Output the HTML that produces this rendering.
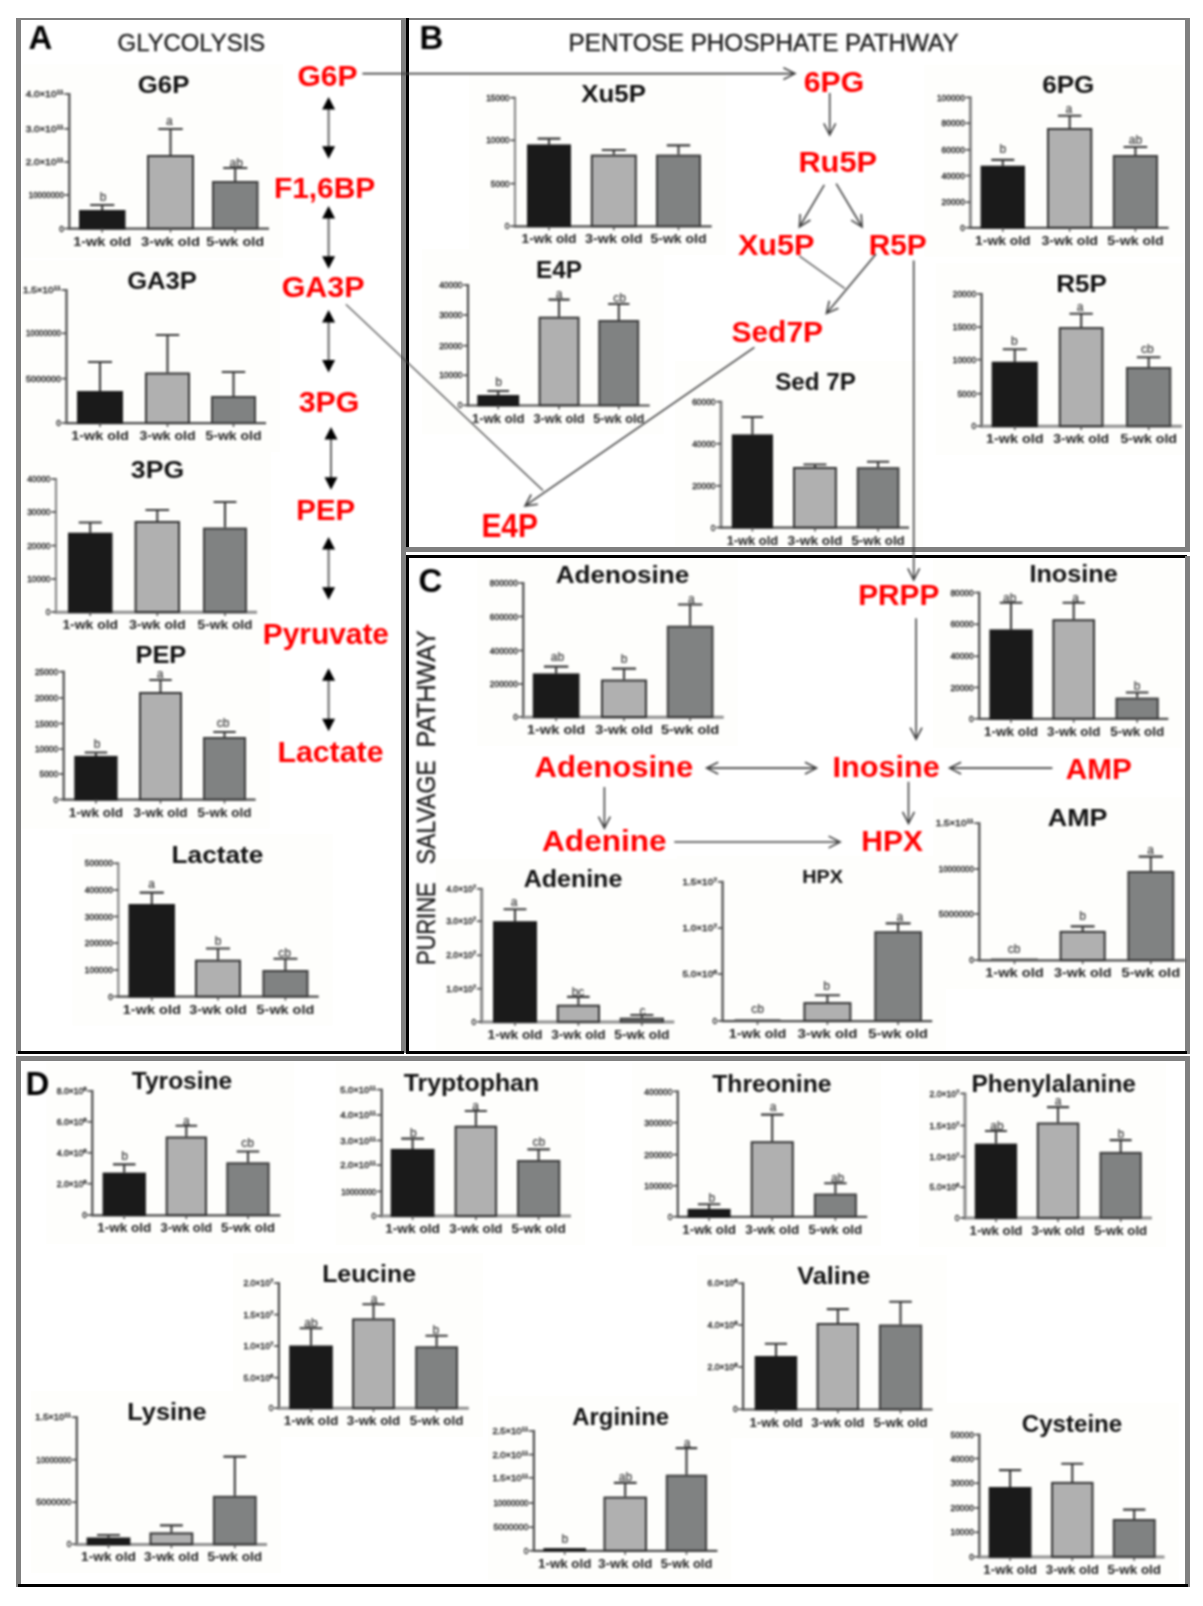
<!DOCTYPE html>
<html><head><meta charset="utf-8"><title>Figure</title>
<style>
html,body{margin:0;padding:0;background:#fff;}
svg{display:block;}
text{font-family:"Liberation Sans",Arial,Helvetica,sans-serif;}
.tk{font-size:8.4px;fill:#2a2a2a;stroke:#2a2a2a;stroke-width:0.4;}
.xl{font-size:13.6px;font-weight:bold;fill:#222;}
.lt{font-size:12px;fill:#3a3a3a;stroke:#3a3a3a;stroke-width:0.2;}
.tt{font-weight:bold;fill:#111;}
.pl{font-size:33px;font-weight:bold;fill:#000;}
.hd{font-size:23.5px;fill:#1c1c1c;stroke:#1c1c1c;stroke-width:0.35;}
.rd{font-size:29.5px;font-weight:bold;fill:#ff0000;}
</style></head><body>
<svg width="1203" height="1606" viewBox="0 0 1203 1606">
<defs><filter id="bl" x="0" y="0" width="1203" height="1606" filterUnits="userSpaceOnUse" color-interpolation-filters="sRGB"><feGaussianBlur stdDeviation="0.8" color-interpolation-filters="sRGB"/></filter></defs>
<rect width="1203" height="1606" fill="#ffffff"/>
<g>
<rect x="23.3" y="64.5" width="259.7" height="193" fill="#fefefc"/>
<rect x="21" y="260.4" width="259" height="191.6" fill="#fefefc"/>
<rect x="21" y="449" width="250" height="192" fill="#fefefc"/>
<rect x="21" y="634.3" width="248.6" height="194.2" fill="#fefefc"/>
<rect x="72.3" y="834" width="260.4" height="191.5" fill="#fefefc"/>
<rect x="469" y="73.3" width="256.7" height="181.9" fill="#fefefc"/>
<rect x="422" y="249" width="241.7" height="185.3" fill="#fefefc"/>
<rect x="675" y="361.2" width="248" height="184.8" fill="#fefefc"/>
<rect x="924.4" y="64.6" width="258.2" height="192.1" fill="#fefefc"/>
<rect x="935.6" y="263.3" width="248.4" height="191.8" fill="#fefefc"/>
<rect x="477.3" y="559" width="260.4" height="187" fill="#fefefc"/>
<rect x="933.2" y="559" width="249.1" height="188.7" fill="#fefefc"/>
<rect x="933.3" y="797.4" width="250.7" height="191.7" fill="#fefefc"/>
<rect x="435.7" y="858.6" width="252.6" height="191.4" fill="#fefefc"/>
<rect x="676.6" y="855.7" width="269.6" height="194.2" fill="#fefefc"/>
<rect x="46.3" y="1062" width="248.1" height="182.1" fill="#fefefc"/>
<rect x="335.7" y="1062" width="249.3" height="182.9" fill="#fefefc"/>
<rect x="631.8" y="1062.7" width="249.4" height="183" fill="#fefefc"/>
<rect x="919" y="1062.7" width="246.9" height="184.2" fill="#fefefc"/>
<rect x="232.9" y="1253.3" width="249.9" height="183.8" fill="#fefefc"/>
<rect x="697.1" y="1254.8" width="249.4" height="183.5" fill="#fefefc"/>
<rect x="30.8" y="1390.8" width="250.2" height="182.4" fill="#fefefc"/>
<rect x="487.9" y="1395.9" width="243.5" height="183.8" fill="#fefefc"/>
<rect x="933.3" y="1402.7" width="245.2" height="180.3" fill="#fefefc"/>
</g>
<g shape-rendering="crispEdges">
<rect x="15.5" y="17.5" width="5.5" height="1036.5" fill="#808080"/>
<rect x="15.5" y="17.5" width="1174.5" height="2.6" fill="#808080"/>
<rect x="401.3" y="17.5" width="4.8" height="1035" fill="#808080"/>
<rect x="18" y="1051" width="385.6" height="3" fill="#000000"/>
<rect x="406.1" y="17.5" width="3" height="534.6" fill="#000000"/>
<rect x="1185" y="17.5" width="5" height="534.6" fill="#808080"/>
<rect x="406.1" y="547.2" width="783.9" height="4.9" fill="#808080"/>
<rect x="406.1" y="554.6" width="3" height="499.4" fill="#000000"/>
<rect x="406.1" y="554.6" width="781" height="3.3" fill="#000000"/>
<rect x="1185" y="555.5" width="5" height="498.5" fill="#808080"/>
<rect x="406.1" y="1051" width="781" height="3" fill="#000000"/>
<rect x="15.5" y="1056.2" width="1174.5" height="5.2" fill="#808080"/>
<rect x="15.5" y="1056.2" width="5.5" height="530.6" fill="#808080"/>
<rect x="1185" y="1056.2" width="5" height="530.6" fill="#808080"/>
<rect x="18" y="1583.8" width="1170" height="3" fill="#000000"/>
</g>
<g filter="url(#bl)">
<text class="pl" x="28.5" y="48.5">A</text>
<text class="pl" x="419.5" y="48.5">B</text>
<text class="pl" x="418.5" y="591.5">C</text>
<text class="pl" x="25.5" y="1094.5">D</text>
<text class="hd" x="117.6" y="51" textLength="147.6" lengthAdjust="spacingAndGlyphs">GLYCOLYSIS</text>
<text class="hd" x="568.6" y="51" textLength="390" lengthAdjust="spacingAndGlyphs">PENTOSE PHOSPHATE PATHWAY</text>
<text class="hd" transform="translate(435.4 965.1) rotate(-90) scale(1 1.12)" style="font-size:22.8px" textLength="82.7" lengthAdjust="spacingAndGlyphs">PURINE</text>
<text class="hd" transform="translate(435.4 864.3) rotate(-90) scale(1 1.12)" style="font-size:22.8px" textLength="103.9" lengthAdjust="spacingAndGlyphs">SALVAGE</text>
<text class="hd" transform="translate(435.4 747.2) rotate(-90) scale(1 1.12)" style="font-size:22.8px" textLength="116.8" lengthAdjust="spacingAndGlyphs">PATHWAY</text>
<text class="rd" x="297.5" y="86" style="font-size:29.5px" textLength="60" lengthAdjust="spacingAndGlyphs">G6P</text>
<text class="rd" x="273.9" y="197.9" style="font-size:29.5px" textLength="101.4" lengthAdjust="spacingAndGlyphs">F1,6BP</text>
<text class="rd" x="281.7" y="297.3" style="font-size:29.5px" textLength="82.9" lengthAdjust="spacingAndGlyphs">GA3P</text>
<text class="rd" x="298.7" y="411.7" style="font-size:29.5px" textLength="60.7" lengthAdjust="spacingAndGlyphs">3PG</text>
<text class="rd" x="296.3" y="520.2" style="font-size:29.5px" textLength="58.8" lengthAdjust="spacingAndGlyphs">PEP</text>
<text class="rd" x="262.7" y="643.8" style="font-size:29.5px" textLength="126.3" lengthAdjust="spacingAndGlyphs">Pyruvate</text>
<text class="rd" x="277.4" y="761.7" style="font-size:29.5px" textLength="106.1" lengthAdjust="spacingAndGlyphs">Lactate</text>
<text class="rd" x="803.8" y="91.9" style="font-size:30.2px" textLength="60.4" lengthAdjust="spacingAndGlyphs">6PG</text>
<text class="rd" x="798.4" y="171.8" style="font-size:30.2px" textLength="78.7" lengthAdjust="spacingAndGlyphs">Ru5P</text>
<text class="rd" x="737.9" y="255" style="font-size:30.2px" textLength="76.6" lengthAdjust="spacingAndGlyphs">Xu5P</text>
<text class="rd" x="868.7" y="255" style="font-size:30.2px" textLength="58.1" lengthAdjust="spacingAndGlyphs">R5P</text>
<text class="rd" x="731.4" y="341.5" style="font-size:30.2px" textLength="91.7" lengthAdjust="spacingAndGlyphs">Sed7P</text>
<text class="rd" x="481.4" y="537.2" style="font-size:32.5px" textLength="56.5" lengthAdjust="spacingAndGlyphs">E4P</text>
<text class="rd" x="858.2" y="605.2" style="font-size:29.5px" textLength="81.1" lengthAdjust="spacingAndGlyphs">PRPP</text>
<text class="rd" x="534.5" y="776.7" style="font-size:29.5px" textLength="158.8" lengthAdjust="spacingAndGlyphs">Adenosine</text>
<text class="rd" x="832.6" y="776.7" style="font-size:29.5px" textLength="107.3" lengthAdjust="spacingAndGlyphs">Inosine</text>
<text class="rd" x="1065.8" y="779.4" style="font-size:29.5px" textLength="66" lengthAdjust="spacingAndGlyphs">AMP</text>
<text class="rd" x="542" y="851.3" style="font-size:29.5px" textLength="124.7" lengthAdjust="spacingAndGlyphs">Adenine</text>
<text class="rd" x="861.3" y="851.1" style="font-size:29.5px" textLength="61.7" lengthAdjust="spacingAndGlyphs">HPX</text>
<path d="M328.6 108.5V147.2" stroke="#666" stroke-width="2" fill="none"/><path d="M328.6 97L335.1 109.5H322.1Z" fill="#000"/><path d="M328.6 158.7L335.1 146.2H322.1Z" fill="#000"/>
<path d="M328.6 217.4V257.3" stroke="#666" stroke-width="2" fill="none"/><path d="M328.6 205.9L335.1 218.4H322.1Z" fill="#000"/><path d="M328.6 268.8L335.1 256.3H322.1Z" fill="#000"/>
<path d="M328.6 321.5V360.9" stroke="#666" stroke-width="2" fill="none"/><path d="M328.6 310L335.1 322.5H322.1Z" fill="#000"/><path d="M328.6 372.4L335.1 359.9H322.1Z" fill="#000"/>
<path d="M331 438.4V478.3" stroke="#666" stroke-width="2" fill="none"/><path d="M331 426.9L337.5 439.4H324.5Z" fill="#000"/><path d="M331 489.8L337.5 477.3H324.5Z" fill="#000"/>
<path d="M328.6 548.5V588.3" stroke="#666" stroke-width="2" fill="none"/><path d="M328.6 537L335.1 549.5H322.1Z" fill="#000"/><path d="M328.6 599.8L335.1 587.3H322.1Z" fill="#000"/>
<path d="M328.6 679.8V719.7" stroke="#666" stroke-width="2" fill="none"/><path d="M328.6 668.3L335.1 680.8H322.1Z" fill="#000"/><path d="M328.6 731.2L335.1 718.7H322.1Z" fill="#000"/>
<path d="M362.4 73.6L795 73.6M783.4 67.7L795 73.6L783.4 79.5" fill="none" stroke="#404040" stroke-width="1.6" stroke-linejoin="miter"/>
<path d="M829.7 93L829.7 135M835.6 123.4L829.7 135L823.8 123.4" fill="none" stroke="#404040" stroke-width="1.6" stroke-linejoin="miter"/>
<path d="M824.3 184.8L799.4 227M810.4 220L799.4 227L800.2 214" fill="none" stroke="#404040" stroke-width="1.6" stroke-linejoin="miter"/>
<path d="M836.2 183.7L862.1 227M861.2 214L862.1 227L851.1 220.1" fill="none" stroke="#404040" stroke-width="1.6" stroke-linejoin="miter"/>
<path d="M799.4 256L844.8 288.5" fill="none" stroke="#404040" stroke-width="1.3" stroke-linejoin="miter"/>
<path d="M876 254L826.4 313.4M838.4 308.3L826.4 313.4L829.3 300.7" fill="none" stroke="#404040" stroke-width="1.6" stroke-linejoin="miter"/>
<path d="M754.4 347.4L525 505.9M537.9 504.2L525 505.9L531.2 494.5" fill="none" stroke="#404040" stroke-width="1.6" stroke-linejoin="miter"/>
<path d="M345.9 304.4L543 490.5" fill="none" stroke="#404040" stroke-width="1.3" stroke-linejoin="miter"/>
<path d="M913.7 260.4L913.7 580M919.6 568.4L913.7 580L907.8 568.4" fill="none" stroke="#404040" stroke-width="1.6" stroke-linejoin="miter"/>
<path d="M916.1 618.2L916.1 739.2M922 727.6L916.1 739.2L910.2 727.6" fill="none" stroke="#404040" stroke-width="1.6" stroke-linejoin="miter"/>
<path d="M706.6 768.1L816.6 768.1M805 762.2L816.6 768.1L805 774M718.2 774L706.6 768.1L718.2 762.2" fill="none" stroke="#404040" stroke-width="1.6" stroke-linejoin="miter"/>
<path d="M1052.4 768.1L949.5 768.1M961.1 774L949.5 768.1L961.1 762.2" fill="none" stroke="#404040" stroke-width="1.6" stroke-linejoin="miter"/>
<path d="M604.4 786.9L604.4 828.2M610.3 816.6L604.4 828.2L598.5 816.6" fill="none" stroke="#404040" stroke-width="1.6" stroke-linejoin="miter"/>
<path d="M674.3 842L840.2 842M828.6 836.1L840.2 842L828.6 847.9" fill="none" stroke="#404040" stroke-width="1.6" stroke-linejoin="miter"/>
<path d="M908.5 781.8L908.5 823.5M914.4 811.9L908.5 823.5L902.6 811.9" fill="none" stroke="#404040" stroke-width="1.6" stroke-linejoin="miter"/>
<g>
<path d="M69.3 93V229.6" fill="none" stroke="#4a4a4a" stroke-width="2.2"/>
<path d="M68.2 228.7H269" fill="none" stroke="#4a4a4a" stroke-width="2.2"/>
<path d="M64.5 94H69.3" stroke="#555" stroke-width="1.8"/>
<text class="tk" x="63.8" y="97.1" text-anchor="end" textLength="38" lengthAdjust="spacingAndGlyphs">4.0×10<tspan dy="-3" font-size="6">11</tspan></text>
<path d="M64.5 128.8H69.3" stroke="#555" stroke-width="1.8"/>
<text class="tk" x="63.8" y="131.9" text-anchor="end" textLength="38" lengthAdjust="spacingAndGlyphs">3.0×10<tspan dy="-3" font-size="6">11</tspan></text>
<path d="M64.5 162H69.3" stroke="#555" stroke-width="1.8"/>
<text class="tk" x="63.8" y="165.1" text-anchor="end" textLength="38" lengthAdjust="spacingAndGlyphs">2.0×10<tspan dy="-3" font-size="6">11</tspan></text>
<path d="M64.5 195H69.3" stroke="#555" stroke-width="1.8"/>
<text class="tk" x="63.8" y="198.1" text-anchor="end" textLength="35" lengthAdjust="spacingAndGlyphs">10000000</text>
<path d="M64.5 228.5H69.3" stroke="#555" stroke-width="1.8"/>
<text class="tk" x="63.8" y="231.6" text-anchor="end">0</text>
<path d="M102.2 210V205M90.2 205H114.3" fill="none" stroke="#383838" stroke-width="2.1"/>
<rect x="80" y="211" width="44.5" height="17.5" fill="#1a1a1a" stroke="#1a1a1a" stroke-width="2"/>
<path d="M102.2 228.5V232.5" stroke="#555" stroke-width="1.6"/>
<text class="xl" x="102.2" y="245.7" text-anchor="middle" textLength="58.1" lengthAdjust="spacingAndGlyphs">1-wk old</text>
<path d="M170.5 155V129M158.3 129H182.7" fill="none" stroke="#383838" stroke-width="2.1"/>
<rect x="148" y="156" width="45" height="72.5" fill="#b0b0b0" stroke="#333333" stroke-width="2"/>
<path d="M170.5 228.5V232.5" stroke="#555" stroke-width="1.6"/>
<text class="xl" x="170.5" y="245.7" text-anchor="middle" textLength="58.8" lengthAdjust="spacingAndGlyphs">3-wk old</text>
<path d="M235.2 181V168M223.2 168H247.3" fill="none" stroke="#383838" stroke-width="2.1"/>
<rect x="213" y="182" width="44.5" height="46.5" fill="#808282" stroke="#3c3c3c" stroke-width="2"/>
<path d="M235.2 228.5V232.5" stroke="#555" stroke-width="1.6"/>
<text class="xl" x="235.2" y="245.7" text-anchor="middle" textLength="58.1" lengthAdjust="spacingAndGlyphs">5-wk old</text>
<text class="lt" x="103" y="200.6" text-anchor="middle">b</text>
<text class="lt" x="169.4" y="124.6" text-anchor="middle">a</text>
<text class="lt" x="236.2" y="166.6" text-anchor="middle">ab</text>
<text class="tt" x="163.6" y="93.3" text-anchor="middle" font-size="24.5" textLength="51.6" lengthAdjust="spacingAndGlyphs">G6P</text>
</g>
<g>
<path d="M66.5 289V424.1" fill="none" stroke="#4a4a4a" stroke-width="2.2"/>
<path d="M65.4 423.2H266" fill="none" stroke="#4a4a4a" stroke-width="2.2"/>
<path d="M61.7 290H66.5" stroke="#555" stroke-width="1.8"/>
<text class="tk" x="61" y="293.1" text-anchor="end" textLength="38" lengthAdjust="spacingAndGlyphs">1.5×10<tspan dy="-3" font-size="6">11</tspan></text>
<path d="M61.7 333.3H66.5" stroke="#555" stroke-width="1.8"/>
<text class="tk" x="61" y="336.4" text-anchor="end" textLength="35" lengthAdjust="spacingAndGlyphs">10000000</text>
<path d="M61.7 378.6H66.5" stroke="#555" stroke-width="1.8"/>
<text class="tk" x="61" y="381.7" text-anchor="end" textLength="35" lengthAdjust="spacingAndGlyphs">5000000</text>
<path d="M61.7 423H66.5" stroke="#555" stroke-width="1.8"/>
<text class="tk" x="61" y="426.1" text-anchor="end">0</text>
<path d="M100 391V362M88 362H112" fill="none" stroke="#383838" stroke-width="2.1"/>
<rect x="78" y="392" width="44" height="31" fill="#1a1a1a" stroke="#1a1a1a" stroke-width="2"/>
<path d="M100 423V427" stroke="#555" stroke-width="1.6"/>
<text class="xl" x="100" y="440.2" text-anchor="middle" textLength="57.5" lengthAdjust="spacingAndGlyphs">1-wk old</text>
<path d="M167.5 372.5V335M155.8 335H179.2" fill="none" stroke="#383838" stroke-width="2.1"/>
<rect x="146" y="373.5" width="43" height="49.5" fill="#b0b0b0" stroke="#333333" stroke-width="2"/>
<path d="M167.5 423V427" stroke="#555" stroke-width="1.6"/>
<text class="xl" x="167.5" y="440.2" text-anchor="middle" textLength="56.2" lengthAdjust="spacingAndGlyphs">3-wk old</text>
<path d="M233.5 396V372M221.8 372H245.2" fill="none" stroke="#383838" stroke-width="2.1"/>
<rect x="212" y="397" width="43" height="26" fill="#808282" stroke="#3c3c3c" stroke-width="2"/>
<path d="M233.5 423V427" stroke="#555" stroke-width="1.6"/>
<text class="xl" x="233.5" y="440.2" text-anchor="middle" textLength="56.2" lengthAdjust="spacingAndGlyphs">5-wk old</text>
<text class="tt" x="162" y="289.2" text-anchor="middle" font-size="24.5" textLength="69.7" lengthAdjust="spacingAndGlyphs">GA3P</text>
</g>
<g>
<path d="M56 478V613.5" fill="none" stroke="#888888" stroke-width="2.2"/>
<path d="M54.9 612.2H257" fill="none" stroke="#909090" stroke-width="3"/>
<path d="M51.2 479H56" stroke="#555" stroke-width="1.8"/>
<text class="tk" x="50.5" y="482.1" text-anchor="end">40000</text>
<path d="M51.2 512H56" stroke="#555" stroke-width="1.8"/>
<text class="tk" x="50.5" y="515.1" text-anchor="end">30000</text>
<path d="M51.2 545.6H56" stroke="#555" stroke-width="1.8"/>
<text class="tk" x="50.5" y="548.7" text-anchor="end">20000</text>
<path d="M51.2 579H56" stroke="#555" stroke-width="1.8"/>
<text class="tk" x="50.5" y="582.1" text-anchor="end">10000</text>
<path d="M51.2 612H56" stroke="#555" stroke-width="1.8"/>
<text class="tk" x="50.5" y="615.1" text-anchor="end">0</text>
<path d="M90.2 532.7V522.5M78.7 522.5H101.8" fill="none" stroke="#383838" stroke-width="2.1"/>
<rect x="69" y="533.7" width="42.5" height="78.3" fill="#1a1a1a" stroke="#1a1a1a" stroke-width="2"/>
<path d="M90.2 612V616" stroke="#555" stroke-width="1.6"/>
<text class="xl" x="90.2" y="629.2" text-anchor="middle" textLength="55.6" lengthAdjust="spacingAndGlyphs">1-wk old</text>
<path d="M157.3 521V510M145.5 510H169.1" fill="none" stroke="#383838" stroke-width="2.1"/>
<rect x="135.6" y="522" width="43.4" height="90" fill="#b0b0b0" stroke="#333333" stroke-width="2"/>
<path d="M157.3 612V616" stroke="#555" stroke-width="1.6"/>
<text class="xl" x="157.3" y="629.2" text-anchor="middle" textLength="56.8" lengthAdjust="spacingAndGlyphs">3-wk old</text>
<path d="M225 527.6V502M213.6 502H236.4" fill="none" stroke="#383838" stroke-width="2.1"/>
<rect x="204" y="528.6" width="42" height="83.4" fill="#808282" stroke="#3c3c3c" stroke-width="2"/>
<path d="M225 612V616" stroke="#555" stroke-width="1.6"/>
<text class="xl" x="225" y="629.2" text-anchor="middle" textLength="55" lengthAdjust="spacingAndGlyphs">5-wk old</text>
<text class="tt" x="157.5" y="477.8" text-anchor="middle" font-size="24.5" textLength="53.3" lengthAdjust="spacingAndGlyphs">3PG</text>
</g>
<g>
<path d="M63.7 670.7V800.6" fill="none" stroke="#4a4a4a" stroke-width="2.2"/>
<path d="M62.6 799.7H255.6" fill="none" stroke="#4a4a4a" stroke-width="2.2"/>
<path d="M58.9 671.7H63.7" stroke="#555" stroke-width="1.8"/>
<text class="tk" x="58.2" y="674.8" text-anchor="end">25000</text>
<path d="M58.9 698H63.7" stroke="#555" stroke-width="1.8"/>
<text class="tk" x="58.2" y="701.1" text-anchor="end">20000</text>
<path d="M58.9 723.5H63.7" stroke="#555" stroke-width="1.8"/>
<text class="tk" x="58.2" y="726.6" text-anchor="end">15000</text>
<path d="M58.9 749H63.7" stroke="#555" stroke-width="1.8"/>
<text class="tk" x="58.2" y="752.1" text-anchor="end">10000</text>
<path d="M58.9 774H63.7" stroke="#555" stroke-width="1.8"/>
<text class="tk" x="58.2" y="777.1" text-anchor="end">5000</text>
<path d="M58.9 799.5H63.7" stroke="#555" stroke-width="1.8"/>
<text class="tk" x="58.2" y="802.6" text-anchor="end">0</text>
<path d="M95.9 755.9V752.5M84.7 752.5H107.2" fill="none" stroke="#383838" stroke-width="2.1"/>
<rect x="75.3" y="756.9" width="41.3" height="42.6" fill="#1a1a1a" stroke="#1a1a1a" stroke-width="2"/>
<path d="M95.9 799.5V803.5" stroke="#555" stroke-width="1.6"/>
<text class="xl" x="95.9" y="816.7" text-anchor="middle" textLength="54.1" lengthAdjust="spacingAndGlyphs">1-wk old</text>
<path d="M160.5 692V680M149.3 680H171.7" fill="none" stroke="#383838" stroke-width="2.1"/>
<rect x="140" y="693" width="41" height="106.5" fill="#b0b0b0" stroke="#333333" stroke-width="2"/>
<path d="M160.5 799.5V803.5" stroke="#555" stroke-width="1.6"/>
<text class="xl" x="160.5" y="816.7" text-anchor="middle" textLength="53.8" lengthAdjust="spacingAndGlyphs">3-wk old</text>
<path d="M224.5 737V732M213.3 732H235.7" fill="none" stroke="#383838" stroke-width="2.1"/>
<rect x="204" y="738" width="41" height="61.5" fill="#808282" stroke="#3c3c3c" stroke-width="2"/>
<path d="M224.5 799.5V803.5" stroke="#555" stroke-width="1.6"/>
<text class="xl" x="224.5" y="816.7" text-anchor="middle" textLength="53.8" lengthAdjust="spacingAndGlyphs">5-wk old</text>
<text class="lt" x="97" y="747.6" text-anchor="middle">b</text>
<text class="lt" x="160" y="677.6" text-anchor="middle">a</text>
<text class="lt" x="223" y="726.6" text-anchor="middle">cb</text>
<text class="tt" x="160.9" y="663.1" text-anchor="middle" font-size="24.5" textLength="50.9" lengthAdjust="spacingAndGlyphs">PEP</text>
</g>
<g>
<path d="M118.3 862.3V997.6" fill="none" stroke="#888888" stroke-width="2.2"/>
<path d="M117.2 996.7H318.7" fill="none" stroke="#4a4a4a" stroke-width="2.2"/>
<path d="M113.5 863.3H118.3" stroke="#555" stroke-width="1.8"/>
<text class="tk" x="112.8" y="866.4" text-anchor="end">500000</text>
<path d="M113.5 890H118.3" stroke="#555" stroke-width="1.8"/>
<text class="tk" x="112.8" y="893.1" text-anchor="end">400000</text>
<path d="M113.5 916.5H118.3" stroke="#555" stroke-width="1.8"/>
<text class="tk" x="112.8" y="919.6" text-anchor="end">300000</text>
<path d="M113.5 943H118.3" stroke="#555" stroke-width="1.8"/>
<text class="tk" x="112.8" y="946.1" text-anchor="end">200000</text>
<path d="M113.5 970H118.3" stroke="#555" stroke-width="1.8"/>
<text class="tk" x="112.8" y="973.1" text-anchor="end">100000</text>
<path d="M113.5 996.5H118.3" stroke="#555" stroke-width="1.8"/>
<text class="tk" x="112.8" y="999.6" text-anchor="end">0</text>
<path d="M151.8 904V892.6M139.7 892.6H163.8" fill="none" stroke="#383838" stroke-width="2.1"/>
<rect x="129.5" y="905" width="44.5" height="91.5" fill="#1a1a1a" stroke="#1a1a1a" stroke-width="2"/>
<path d="M151.8 996.5V1000.5" stroke="#555" stroke-width="1.6"/>
<text class="xl" x="151.8" y="1013.7" text-anchor="middle" textLength="58.1" lengthAdjust="spacingAndGlyphs">1-wk old</text>
<path d="M218 959.7V948.5M206 948.5H230" fill="none" stroke="#383838" stroke-width="2.1"/>
<rect x="196" y="960.7" width="44" height="35.8" fill="#b0b0b0" stroke="#333333" stroke-width="2"/>
<path d="M218 996.5V1000.5" stroke="#555" stroke-width="1.6"/>
<text class="xl" x="218" y="1013.7" text-anchor="middle" textLength="57.5" lengthAdjust="spacingAndGlyphs">3-wk old</text>
<path d="M285.4 970V958.7M273.5 958.7H297.4" fill="none" stroke="#383838" stroke-width="2.1"/>
<rect x="263.4" y="971" width="44.1" height="25.5" fill="#808282" stroke="#3c3c3c" stroke-width="2"/>
<path d="M285.4 996.5V1000.5" stroke="#555" stroke-width="1.6"/>
<text class="xl" x="285.4" y="1013.7" text-anchor="middle" textLength="57.6" lengthAdjust="spacingAndGlyphs">5-wk old</text>
<text class="lt" x="151.7" y="888.4" text-anchor="middle">a</text>
<text class="lt" x="218.1" y="944.6" text-anchor="middle">b</text>
<text class="lt" x="284.6" y="956.6" text-anchor="middle">cb</text>
<text class="tt" x="217.5" y="862.8" text-anchor="middle" font-size="24.5" textLength="91.8" lengthAdjust="spacingAndGlyphs">Lactate</text>
</g>
<g>
<path d="M515 96.7V227.3" fill="none" stroke="#888888" stroke-width="2.2"/>
<path d="M513.9 226.4H711.7" fill="none" stroke="#4a4a4a" stroke-width="2.2"/>
<path d="M510.2 97.7H515" stroke="#555" stroke-width="1.8"/>
<text class="tk" x="509.5" y="100.8" text-anchor="end">15000</text>
<path d="M510.2 140.3H515" stroke="#555" stroke-width="1.8"/>
<text class="tk" x="509.5" y="143.4" text-anchor="end">10000</text>
<path d="M510.2 183.6H515" stroke="#555" stroke-width="1.8"/>
<text class="tk" x="509.5" y="186.7" text-anchor="end">5000</text>
<path d="M510.2 226.2H515" stroke="#555" stroke-width="1.8"/>
<text class="tk" x="509.5" y="229.3" text-anchor="end">0</text>
<path d="M549 144.4V138.6M537.6 138.6H560.4" fill="none" stroke="#383838" stroke-width="2.1"/>
<rect x="528" y="145.4" width="42" height="80.8" fill="#1a1a1a" stroke="#1a1a1a" stroke-width="2"/>
<path d="M549 226.2V230.2" stroke="#555" stroke-width="1.6"/>
<text class="xl" x="549" y="243.4" text-anchor="middle" textLength="55" lengthAdjust="spacingAndGlyphs">1-wk old</text>
<path d="M613.8 154.6V150M601.8 150H625.8" fill="none" stroke="#383838" stroke-width="2.1"/>
<rect x="591.8" y="155.6" width="44" height="70.6" fill="#b0b0b0" stroke="#333333" stroke-width="2"/>
<path d="M613.8 226.2V230.2" stroke="#555" stroke-width="1.6"/>
<text class="xl" x="613.8" y="243.4" text-anchor="middle" textLength="57.5" lengthAdjust="spacingAndGlyphs">3-wk old</text>
<path d="M678.5 154.6V145.4M666.8 145.4H690.2" fill="none" stroke="#383838" stroke-width="2.1"/>
<rect x="657" y="155.6" width="43" height="70.6" fill="#808282" stroke="#3c3c3c" stroke-width="2"/>
<path d="M678.5 226.2V230.2" stroke="#555" stroke-width="1.6"/>
<text class="xl" x="678.5" y="243.4" text-anchor="middle" textLength="56.2" lengthAdjust="spacingAndGlyphs">5-wk old</text>
<text class="tt" x="613.6" y="102.1" text-anchor="middle" font-size="24.5" textLength="64.5" lengthAdjust="spacingAndGlyphs">Xu5P</text>
</g>
<g>
<path d="M468 284V406.4" fill="none" stroke="#4a4a4a" stroke-width="2.2"/>
<path d="M466.9 405.5H649.7" fill="none" stroke="#4a4a4a" stroke-width="2.2"/>
<path d="M463.2 285H468" stroke="#555" stroke-width="1.8"/>
<text class="tk" x="462.5" y="288.1" text-anchor="end">40000</text>
<path d="M463.2 315H468" stroke="#555" stroke-width="1.8"/>
<text class="tk" x="462.5" y="318.1" text-anchor="end">30000</text>
<path d="M463.2 345.7H468" stroke="#555" stroke-width="1.8"/>
<text class="tk" x="462.5" y="348.8" text-anchor="end">20000</text>
<path d="M463.2 375.3H468" stroke="#555" stroke-width="1.8"/>
<text class="tk" x="462.5" y="378.4" text-anchor="end">10000</text>
<path d="M463.2 405.3H468" stroke="#555" stroke-width="1.8"/>
<text class="tk" x="462.5" y="408.4" text-anchor="end">0</text>
<path d="M498.2 395V391M487.4 391H509.1" fill="none" stroke="#383838" stroke-width="2.1"/>
<rect x="478.3" y="396" width="39.9" height="9.3" fill="#1a1a1a" stroke="#1a1a1a" stroke-width="2"/>
<path d="M498.2 405.3V409.3" stroke="#555" stroke-width="1.6"/>
<text class="xl" x="498.2" y="422.5" text-anchor="middle" textLength="52.4" lengthAdjust="spacingAndGlyphs">1-wk old</text>
<path d="M559 316.7V299.6M548.4 299.6H569.7" fill="none" stroke="#383838" stroke-width="2.1"/>
<rect x="539.6" y="317.7" width="38.9" height="87.6" fill="#b0b0b0" stroke="#333333" stroke-width="2"/>
<path d="M559 405.3V409.3" stroke="#555" stroke-width="1.6"/>
<text class="xl" x="559" y="422.5" text-anchor="middle" textLength="51.1" lengthAdjust="spacingAndGlyphs">3-wk old</text>
<path d="M618.8 320V304M608.1 304H629.4" fill="none" stroke="#383838" stroke-width="2.1"/>
<rect x="599.3" y="321" width="38.9" height="84.3" fill="#808282" stroke="#3c3c3c" stroke-width="2"/>
<path d="M618.8 405.3V409.3" stroke="#555" stroke-width="1.6"/>
<text class="xl" x="618.8" y="422.5" text-anchor="middle" textLength="51.1" lengthAdjust="spacingAndGlyphs">5-wk old</text>
<text class="lt" x="498.7" y="386.1" text-anchor="middle">b</text>
<text class="lt" x="559" y="297.5" text-anchor="middle">a</text>
<text class="lt" x="619.7" y="301.6" text-anchor="middle">cb</text>
<text class="tt" x="559" y="277.8" text-anchor="middle" font-size="24.5" textLength="45.8" lengthAdjust="spacingAndGlyphs">E4P</text>
</g>
<g>
<path d="M721 400.7V528.6" fill="none" stroke="#888888" stroke-width="3"/>
<path d="M719.5 527.7H909" fill="none" stroke="#4a4a4a" stroke-width="2.2"/>
<path d="M716.2 401.7H721" stroke="#555" stroke-width="1.8"/>
<text class="tk" x="715.5" y="404.8" text-anchor="end">60000</text>
<path d="M716.2 443.7H721" stroke="#555" stroke-width="1.8"/>
<text class="tk" x="715.5" y="446.8" text-anchor="end">40000</text>
<path d="M716.2 485.8H721" stroke="#555" stroke-width="1.8"/>
<text class="tk" x="715.5" y="488.9" text-anchor="end">20000</text>
<path d="M716.2 527.5H721" stroke="#555" stroke-width="1.8"/>
<text class="tk" x="715.5" y="530.6" text-anchor="end">0</text>
<path d="M752.4 434.4V417M741.7 417H763.1" fill="none" stroke="#383838" stroke-width="2.1"/>
<rect x="732.8" y="435.4" width="39.2" height="92.1" fill="#1a1a1a" stroke="#1a1a1a" stroke-width="2"/>
<path d="M752.4 527.5V531.5" stroke="#555" stroke-width="1.6"/>
<text class="xl" x="752.4" y="544.7" text-anchor="middle" textLength="51.5" lengthAdjust="spacingAndGlyphs">1-wk old</text>
<path d="M815 467V464.5M803.5 464.5H826.4" fill="none" stroke="#383838" stroke-width="2.1"/>
<rect x="794" y="468" width="41.9" height="59.5" fill="#b0b0b0" stroke="#333333" stroke-width="2"/>
<path d="M815 527.5V531.5" stroke="#555" stroke-width="1.6"/>
<text class="xl" x="815" y="544.7" text-anchor="middle" textLength="54.9" lengthAdjust="spacingAndGlyphs">3-wk old</text>
<path d="M878.1 467.2V461.8M867 461.8H889.2" fill="none" stroke="#383838" stroke-width="2.1"/>
<rect x="857.8" y="468.2" width="40.6" height="59.3" fill="#808282" stroke="#3c3c3c" stroke-width="2"/>
<path d="M878.1 527.5V531.5" stroke="#555" stroke-width="1.6"/>
<text class="xl" x="878.1" y="544.7" text-anchor="middle" textLength="53.3" lengthAdjust="spacingAndGlyphs">5-wk old</text>
<text class="tt" x="815.6" y="390" text-anchor="middle" font-size="24.5" textLength="80.8" lengthAdjust="spacingAndGlyphs">Sed 7P</text>
</g>
<g>
<path d="M970.4 96.4V228.8" fill="none" stroke="#888888" stroke-width="3"/>
<path d="M968.9 227.9H1168.6" fill="none" stroke="#4a4a4a" stroke-width="2.2"/>
<path d="M965.6 97.4H970.4" stroke="#555" stroke-width="1.8"/>
<text class="tk" x="964.9" y="100.5" text-anchor="end">100000</text>
<path d="M965.6 123.2H970.4" stroke="#555" stroke-width="1.8"/>
<text class="tk" x="964.9" y="126.3" text-anchor="end">80000</text>
<path d="M965.6 149.8H970.4" stroke="#555" stroke-width="1.8"/>
<text class="tk" x="964.9" y="152.9" text-anchor="end">60000</text>
<path d="M965.6 175.6H970.4" stroke="#555" stroke-width="1.8"/>
<text class="tk" x="964.9" y="178.7" text-anchor="end">40000</text>
<path d="M965.6 202.2H970.4" stroke="#555" stroke-width="1.8"/>
<text class="tk" x="964.9" y="205.3" text-anchor="end">20000</text>
<path d="M965.6 227.7H970.4" stroke="#555" stroke-width="1.8"/>
<text class="tk" x="964.9" y="230.8" text-anchor="end">0</text>
<path d="M1002.8 165.7V159.9M991.3 159.9H1014.3" fill="none" stroke="#383838" stroke-width="2.1"/>
<rect x="981.6" y="166.7" width="42.4" height="61" fill="#1a1a1a" stroke="#1a1a1a" stroke-width="2"/>
<path d="M1002.8 227.7V231.7" stroke="#555" stroke-width="1.6"/>
<text class="xl" x="1002.8" y="244.9" text-anchor="middle" textLength="55.5" lengthAdjust="spacingAndGlyphs">1-wk old</text>
<path d="M1069.7 128V115.7M1057.9 115.7H1081.4" fill="none" stroke="#383838" stroke-width="2.1"/>
<rect x="1048" y="129" width="43.3" height="98.7" fill="#b0b0b0" stroke="#333333" stroke-width="2"/>
<path d="M1069.7 227.7V231.7" stroke="#555" stroke-width="1.6"/>
<text class="xl" x="1069.7" y="244.9" text-anchor="middle" textLength="56.6" lengthAdjust="spacingAndGlyphs">3-wk old</text>
<path d="M1135.4 155V147M1123.6 147H1147.2" fill="none" stroke="#383838" stroke-width="2.1"/>
<rect x="1113.8" y="156" width="43.2" height="71.7" fill="#808282" stroke="#3c3c3c" stroke-width="2"/>
<path d="M1135.4 227.7V231.7" stroke="#555" stroke-width="1.6"/>
<text class="xl" x="1135.4" y="244.9" text-anchor="middle" textLength="56.5" lengthAdjust="spacingAndGlyphs">5-wk old</text>
<text class="lt" x="1002.9" y="153.4" text-anchor="middle">b</text>
<text class="lt" x="1068.9" y="112.6" text-anchor="middle">a</text>
<text class="lt" x="1135.4" y="144" text-anchor="middle">ab</text>
<text class="tt" x="1068.3" y="93.4" text-anchor="middle" font-size="24.5" textLength="52.3" lengthAdjust="spacingAndGlyphs">6PG</text>
</g>
<g>
<path d="M981.6 292.9V427.6" fill="none" stroke="#4a4a4a" stroke-width="2.2"/>
<path d="M980.5 426.3H1182" fill="none" stroke="#909090" stroke-width="3"/>
<path d="M976.8 293.9H981.6" stroke="#555" stroke-width="1.8"/>
<text class="tk" x="976.1" y="297" text-anchor="end">20000</text>
<path d="M976.8 327.1H981.6" stroke="#555" stroke-width="1.8"/>
<text class="tk" x="976.1" y="330.2" text-anchor="end">15000</text>
<path d="M976.8 359.6H981.6" stroke="#555" stroke-width="1.8"/>
<text class="tk" x="976.1" y="362.7" text-anchor="end">10000</text>
<path d="M976.8 393.7H981.6" stroke="#555" stroke-width="1.8"/>
<text class="tk" x="976.1" y="396.8" text-anchor="end">5000</text>
<path d="M976.8 426.1H981.6" stroke="#555" stroke-width="1.8"/>
<text class="tk" x="976.1" y="429.2" text-anchor="end">0</text>
<path d="M1014.8 361.7V349.2M1002.8 349.2H1026.7" fill="none" stroke="#383838" stroke-width="2.1"/>
<rect x="992.7" y="362.7" width="44.1" height="63.4" fill="#1a1a1a" stroke="#1a1a1a" stroke-width="2"/>
<path d="M1014.8 426.1V430.1" stroke="#555" stroke-width="1.6"/>
<text class="xl" x="1014.8" y="443.3" text-anchor="middle" textLength="57.6" lengthAdjust="spacingAndGlyphs">1-wk old</text>
<path d="M1081.2 327.1V313.8M1069.5 313.8H1092.8" fill="none" stroke="#383838" stroke-width="2.1"/>
<rect x="1059.8" y="328.1" width="42.7" height="98" fill="#b0b0b0" stroke="#333333" stroke-width="2"/>
<path d="M1081.2 426.1V430.1" stroke="#555" stroke-width="1.6"/>
<text class="xl" x="1081.2" y="443.3" text-anchor="middle" textLength="55.9" lengthAdjust="spacingAndGlyphs">3-wk old</text>
<path d="M1148.7 367V357.2M1136.9 357.2H1160.4" fill="none" stroke="#383838" stroke-width="2.1"/>
<rect x="1127" y="368" width="43.3" height="58.1" fill="#808282" stroke="#3c3c3c" stroke-width="2"/>
<path d="M1148.7 426.1V430.1" stroke="#555" stroke-width="1.6"/>
<text class="xl" x="1148.7" y="443.3" text-anchor="middle" textLength="56.6" lengthAdjust="spacingAndGlyphs">5-wk old</text>
<text class="lt" x="1014.3" y="344.6" text-anchor="middle">b</text>
<text class="lt" x="1080" y="310.8" text-anchor="middle">a</text>
<text class="lt" x="1147.4" y="352.6" text-anchor="middle">cb</text>
<text class="tt" x="1081.6" y="292.1" text-anchor="middle" font-size="24.5" textLength="50.7" lengthAdjust="spacingAndGlyphs">R5P</text>
</g>
<g>
<path d="M523.3 582V718.5" fill="none" stroke="#4a4a4a" stroke-width="2.2"/>
<path d="M522.2 717.2H723.7" fill="none" stroke="#909090" stroke-width="3"/>
<path d="M518.5 583H523.3" stroke="#555" stroke-width="1.8"/>
<text class="tk" x="517.8" y="586.1" text-anchor="end">800000</text>
<path d="M518.5 616.5H523.3" stroke="#555" stroke-width="1.8"/>
<text class="tk" x="517.8" y="619.6" text-anchor="end">600000</text>
<path d="M518.5 650.5H523.3" stroke="#555" stroke-width="1.8"/>
<text class="tk" x="517.8" y="653.6" text-anchor="end">400000</text>
<path d="M518.5 684H523.3" stroke="#555" stroke-width="1.8"/>
<text class="tk" x="517.8" y="687.1" text-anchor="end">200000</text>
<path d="M518.5 717H523.3" stroke="#555" stroke-width="1.8"/>
<text class="tk" x="517.8" y="720.1" text-anchor="end">0</text>
<path d="M556.1 673.4V666.6M544 666.6H568.3" fill="none" stroke="#383838" stroke-width="2.1"/>
<rect x="533.8" y="674.4" width="44.7" height="42.6" fill="#1a1a1a" stroke="#1a1a1a" stroke-width="2"/>
<path d="M556.1 717V721" stroke="#555" stroke-width="1.6"/>
<text class="xl" x="556.1" y="734.2" text-anchor="middle" textLength="58.4" lengthAdjust="spacingAndGlyphs">1-wk old</text>
<path d="M624 679.5V668.6M612 668.6H636" fill="none" stroke="#383838" stroke-width="2.1"/>
<rect x="602" y="680.5" width="44" height="36.5" fill="#b0b0b0" stroke="#333333" stroke-width="2"/>
<path d="M624 717V721" stroke="#555" stroke-width="1.6"/>
<text class="xl" x="624" y="734.2" text-anchor="middle" textLength="57.5" lengthAdjust="spacingAndGlyphs">3-wk old</text>
<path d="M690.1 625.7V604.5M678 604.5H702.3" fill="none" stroke="#383838" stroke-width="2.1"/>
<rect x="667.8" y="626.7" width="44.7" height="90.3" fill="#808282" stroke="#3c3c3c" stroke-width="2"/>
<path d="M690.1 717V721" stroke="#555" stroke-width="1.6"/>
<text class="xl" x="690.1" y="734.2" text-anchor="middle" textLength="58.4" lengthAdjust="spacingAndGlyphs">5-wk old</text>
<text class="lt" x="557.4" y="661" text-anchor="middle">ab</text>
<text class="lt" x="624.2" y="663.3" text-anchor="middle">b</text>
<text class="lt" x="691.3" y="603" text-anchor="middle">a</text>
<text class="tt" x="622.5" y="583.3" text-anchor="middle" font-size="24.5" textLength="133.5" lengthAdjust="spacingAndGlyphs">Adenosine</text>
</g>
<g>
<path d="M979.2 591.6V719.8" fill="none" stroke="#4a4a4a" stroke-width="2.2"/>
<path d="M978.1 718.9H1168.3" fill="none" stroke="#4a4a4a" stroke-width="2.2"/>
<path d="M974.4 592.6H979.2" stroke="#555" stroke-width="1.8"/>
<text class="tk" x="973.7" y="595.7" text-anchor="end">80000</text>
<path d="M974.4 624.3H979.2" stroke="#555" stroke-width="1.8"/>
<text class="tk" x="973.7" y="627.4" text-anchor="end">60000</text>
<path d="M974.4 656.3H979.2" stroke="#555" stroke-width="1.8"/>
<text class="tk" x="973.7" y="659.4" text-anchor="end">40000</text>
<path d="M974.4 687.4H979.2" stroke="#555" stroke-width="1.8"/>
<text class="tk" x="973.7" y="690.5" text-anchor="end">20000</text>
<path d="M974.4 718.7H979.2" stroke="#555" stroke-width="1.8"/>
<text class="tk" x="973.7" y="721.8" text-anchor="end">0</text>
<path d="M1011 629.4V602.8M999.8 602.8H1022.3" fill="none" stroke="#383838" stroke-width="2.1"/>
<rect x="990.4" y="630.4" width="41.3" height="88.3" fill="#1a1a1a" stroke="#1a1a1a" stroke-width="2"/>
<path d="M1011 718.7V722.7" stroke="#555" stroke-width="1.6"/>
<text class="xl" x="1011" y="735.9" text-anchor="middle" textLength="54.1" lengthAdjust="spacingAndGlyphs">1-wk old</text>
<path d="M1073.7 619.2V602.8M1062.6 602.8H1084.8" fill="none" stroke="#383838" stroke-width="2.1"/>
<rect x="1053.4" y="620.2" width="40.6" height="98.5" fill="#b0b0b0" stroke="#333333" stroke-width="2"/>
<path d="M1073.7 718.7V722.7" stroke="#555" stroke-width="1.6"/>
<text class="xl" x="1073.7" y="735.9" text-anchor="middle" textLength="53.2" lengthAdjust="spacingAndGlyphs">3-wk old</text>
<path d="M1137.2 697.6V692.5M1125.9 692.5H1148.4" fill="none" stroke="#383838" stroke-width="2.1"/>
<rect x="1116.5" y="698.6" width="41.3" height="20.1" fill="#808282" stroke="#3c3c3c" stroke-width="2"/>
<path d="M1137.2 718.7V722.7" stroke="#555" stroke-width="1.6"/>
<text class="xl" x="1137.2" y="735.9" text-anchor="middle" textLength="54.1" lengthAdjust="spacingAndGlyphs">5-wk old</text>
<text class="lt" x="1009.8" y="602" text-anchor="middle">ab</text>
<text class="lt" x="1075.6" y="602" text-anchor="middle">a</text>
<text class="lt" x="1137" y="689.9" text-anchor="middle">b</text>
<text class="tt" x="1073.6" y="582" text-anchor="middle" font-size="24.5" textLength="88.4" lengthAdjust="spacingAndGlyphs">Inosine</text>
</g>
<g>
<path d="M979.3 822.2V961.2" fill="none" stroke="#4a4a4a" stroke-width="2.2"/>
<path d="M978.2 960.3H1186" fill="none" stroke="#4a4a4a" stroke-width="2.2"/>
<path d="M974.5 823.2H979.3" stroke="#555" stroke-width="1.8"/>
<text class="tk" x="973.8" y="826.3" text-anchor="end" textLength="38" lengthAdjust="spacingAndGlyphs">1.5×10<tspan dy="-3" font-size="6">11</tspan></text>
<path d="M974.5 869H979.3" stroke="#555" stroke-width="1.8"/>
<text class="tk" x="973.8" y="872.1" text-anchor="end" textLength="35" lengthAdjust="spacingAndGlyphs">10000000</text>
<path d="M974.5 913.9H979.3" stroke="#555" stroke-width="1.8"/>
<text class="tk" x="973.8" y="917" text-anchor="end" textLength="35" lengthAdjust="spacingAndGlyphs">5000000</text>
<path d="M974.5 960.1H979.3" stroke="#555" stroke-width="1.8"/>
<text class="tk" x="973.8" y="963.2" text-anchor="end">0</text>
<path d="M991 959.3H1037.9" stroke="#555" stroke-width="1.6"/>
<path d="M1014.5 960.1V964.1" stroke="#555" stroke-width="1.6"/>
<text class="xl" x="1014.5" y="977.3" text-anchor="middle" textLength="58.6" lengthAdjust="spacingAndGlyphs">1-wk old</text>
<path d="M1082.7 930.9V926.4M1070.7 926.4H1094.6" fill="none" stroke="#383838" stroke-width="2.1"/>
<rect x="1060.6" y="931.9" width="44.1" height="28.2" fill="#b0b0b0" stroke="#333333" stroke-width="2"/>
<path d="M1082.7 960.1V964.1" stroke="#555" stroke-width="1.6"/>
<text class="xl" x="1082.7" y="977.3" text-anchor="middle" textLength="57.6" lengthAdjust="spacingAndGlyphs">3-wk old</text>
<path d="M1150.8 871V856.6M1138.7 856.6H1163" fill="none" stroke="#383838" stroke-width="2.1"/>
<rect x="1128.4" y="872" width="44.9" height="88.1" fill="#808282" stroke="#3c3c3c" stroke-width="2"/>
<path d="M1150.8 960.1V964.1" stroke="#555" stroke-width="1.6"/>
<text class="xl" x="1150.8" y="977.3" text-anchor="middle" textLength="58.6" lengthAdjust="spacingAndGlyphs">5-wk old</text>
<text class="lt" x="1014.2" y="953.2" text-anchor="middle">cb</text>
<text class="lt" x="1082.5" y="920.3" text-anchor="middle">b</text>
<text class="lt" x="1150.6" y="853.5" text-anchor="middle">a</text>
<text class="tt" x="1077.6" y="826.2" text-anchor="middle" font-size="24.5" textLength="59.6" lengthAdjust="spacingAndGlyphs">AMP</text>
</g>
<g>
<path d="M481.7 887.8V1023.3" fill="none" stroke="#888888" stroke-width="3"/>
<path d="M480.2 1022H674.3" fill="none" stroke="#909090" stroke-width="3"/>
<path d="M476.9 888.8H481.7" stroke="#555" stroke-width="1.8"/>
<text class="tk" x="476.2" y="891.9" text-anchor="end" textLength="30" lengthAdjust="spacingAndGlyphs">4.0×10<tspan dy="-3" font-size="6">7</tspan></text>
<path d="M476.9 921.2H481.7" stroke="#555" stroke-width="1.8"/>
<text class="tk" x="476.2" y="924.3" text-anchor="end" textLength="30" lengthAdjust="spacingAndGlyphs">3.0×10<tspan dy="-3" font-size="6">7</tspan></text>
<path d="M476.9 955.3H481.7" stroke="#555" stroke-width="1.8"/>
<text class="tk" x="476.2" y="958.4" text-anchor="end" textLength="30" lengthAdjust="spacingAndGlyphs">2.0×10<tspan dy="-3" font-size="6">7</tspan></text>
<path d="M476.9 988.7H481.7" stroke="#555" stroke-width="1.8"/>
<text class="tk" x="476.2" y="991.8" text-anchor="end" textLength="30" lengthAdjust="spacingAndGlyphs">1.0×10<tspan dy="-3" font-size="6">7</tspan></text>
<path d="M476.9 1021.8H481.7" stroke="#555" stroke-width="1.8"/>
<text class="tk" x="476.2" y="1024.9" text-anchor="end">0</text>
<path d="M515 921.2V909.3M503.6 909.3H526.4" fill="none" stroke="#383838" stroke-width="2.1"/>
<rect x="494" y="922.2" width="42" height="99.6" fill="#1a1a1a" stroke="#1a1a1a" stroke-width="2"/>
<path d="M515 1021.8V1025.8" stroke="#555" stroke-width="1.6"/>
<text class="xl" x="515" y="1039" text-anchor="middle" textLength="55" lengthAdjust="spacingAndGlyphs">1-wk old</text>
<path d="M578.4 1004.7V996.9M567.1 996.9H589.6" fill="none" stroke="#383838" stroke-width="2.1"/>
<rect x="557.7" y="1005.7" width="41.3" height="16.1" fill="#b0b0b0" stroke="#333333" stroke-width="2"/>
<path d="M578.4 1021.8V1025.8" stroke="#555" stroke-width="1.6"/>
<text class="xl" x="578.4" y="1039" text-anchor="middle" textLength="54.1" lengthAdjust="spacingAndGlyphs">3-wk old</text>
<path d="M641.9 1017.7V1015M630.3 1015H653.4" fill="none" stroke="#383838" stroke-width="2.1"/>
<rect x="620.7" y="1018.7" width="42.3" height="3.1" fill="#808282" stroke="#3c3c3c" stroke-width="2"/>
<path d="M641.9 1021.8V1025.8" stroke="#555" stroke-width="1.6"/>
<text class="xl" x="641.9" y="1039" text-anchor="middle" textLength="55.4" lengthAdjust="spacingAndGlyphs">5-wk old</text>
<text class="lt" x="514" y="906.1" text-anchor="middle">a</text>
<text class="lt" x="578" y="996.4" text-anchor="middle">bc</text>
<text class="lt" x="642.6" y="1014.5" text-anchor="middle">c</text>
<text class="tt" x="573" y="887.4" text-anchor="middle" font-size="24.5" textLength="98.6" lengthAdjust="spacingAndGlyphs">Adenine</text>
</g>
<g>
<path d="M722.6 880.8V1022" fill="none" stroke="#4a4a4a" stroke-width="2.2"/>
<path d="M721.5 1021.1H932.2" fill="none" stroke="#4a4a4a" stroke-width="2.2"/>
<path d="M717.8 881.8H722.6" stroke="#555" stroke-width="1.8"/>
<text class="tk" x="717.1" y="884.9" text-anchor="end" textLength="34.5" lengthAdjust="spacingAndGlyphs">1.5×10<tspan dy="-3" font-size="6">7</tspan></text>
<path d="M717.8 928H722.6" stroke="#555" stroke-width="1.8"/>
<text class="tk" x="717.1" y="931.1" text-anchor="end" textLength="34.5" lengthAdjust="spacingAndGlyphs">1.0×10<tspan dy="-3" font-size="6">7</tspan></text>
<path d="M717.8 974H722.6" stroke="#555" stroke-width="1.8"/>
<text class="tk" x="717.1" y="977.1" text-anchor="end" textLength="34.5" lengthAdjust="spacingAndGlyphs">5.0×10<tspan dy="-3" font-size="6">6</tspan></text>
<path d="M717.8 1020.9H722.6" stroke="#555" stroke-width="1.8"/>
<text class="tk" x="717.1" y="1024" text-anchor="end">0</text>
<path d="M734.5 1020.1H780.5" stroke="#555" stroke-width="1.6"/>
<path d="M757.5 1020.9V1024.9" stroke="#555" stroke-width="1.6"/>
<text class="xl" x="757.5" y="1038.1" text-anchor="middle" textLength="57.5" lengthAdjust="spacingAndGlyphs">1-wk old</text>
<path d="M827.4 1002.1V995.3M814.9 995.3H839.9" fill="none" stroke="#383838" stroke-width="2.1"/>
<rect x="804.4" y="1003.1" width="46" height="17.8" fill="#b0b0b0" stroke="#333333" stroke-width="2"/>
<path d="M827.4 1020.9V1024.9" stroke="#555" stroke-width="1.6"/>
<text class="xl" x="827.4" y="1038.1" text-anchor="middle" textLength="60" lengthAdjust="spacingAndGlyphs">3-wk old</text>
<path d="M898.1 931.2V923.4M885.7 923.4H910.6" fill="none" stroke="#383838" stroke-width="2.1"/>
<rect x="875.3" y="932.2" width="45.7" height="88.7" fill="#808282" stroke="#3c3c3c" stroke-width="2"/>
<path d="M898.1 1020.9V1024.9" stroke="#555" stroke-width="1.6"/>
<text class="xl" x="898.1" y="1038.1" text-anchor="middle" textLength="59.6" lengthAdjust="spacingAndGlyphs">5-wk old</text>
<text class="lt" x="757.7" y="1013.2" text-anchor="middle">cb</text>
<text class="lt" x="826.6" y="990.4" text-anchor="middle">b</text>
<text class="lt" x="899.8" y="921.2" text-anchor="middle">a</text>
<text class="tt" x="822.5" y="882.5" text-anchor="middle" font-size="19" textLength="40.7" lengthAdjust="spacingAndGlyphs">HPX</text>
</g>
<g>
<path d="M92.3 1089.9V1216.2" fill="none" stroke="#4a4a4a" stroke-width="2.2"/>
<path d="M91.2 1215.3H280.4" fill="none" stroke="#4a4a4a" stroke-width="2.2"/>
<path d="M87.5 1090.9H92.3" stroke="#555" stroke-width="1.8"/>
<text class="tk" x="86.8" y="1094" text-anchor="end" textLength="30" lengthAdjust="spacingAndGlyphs">8.0×10<tspan dy="-3" font-size="6">8</tspan></text>
<path d="M87.5 1121.8H92.3" stroke="#555" stroke-width="1.8"/>
<text class="tk" x="86.8" y="1124.9" text-anchor="end" textLength="30" lengthAdjust="spacingAndGlyphs">6.0×10<tspan dy="-3" font-size="6">8</tspan></text>
<path d="M87.5 1152.8H92.3" stroke="#555" stroke-width="1.8"/>
<text class="tk" x="86.8" y="1155.9" text-anchor="end" textLength="30" lengthAdjust="spacingAndGlyphs">4.0×10<tspan dy="-3" font-size="6">8</tspan></text>
<path d="M87.5 1183.7H92.3" stroke="#555" stroke-width="1.8"/>
<text class="tk" x="86.8" y="1186.8" text-anchor="end" textLength="30" lengthAdjust="spacingAndGlyphs">2.0×10<tspan dy="-3" font-size="6">8</tspan></text>
<path d="M87.5 1215.1H92.3" stroke="#555" stroke-width="1.8"/>
<text class="tk" x="86.8" y="1218.2" text-anchor="end">0</text>
<path d="M124.2 1172.6V1164.4M113 1164.4H135.5" fill="none" stroke="#383838" stroke-width="2.1"/>
<rect x="103.6" y="1173.6" width="41.3" height="41.5" fill="#1a1a1a" stroke="#1a1a1a" stroke-width="2"/>
<path d="M124.2 1215.1V1219.1" stroke="#555" stroke-width="1.6"/>
<text class="xl" x="124.2" y="1232.3" text-anchor="middle" textLength="54.1" lengthAdjust="spacingAndGlyphs">1-wk old</text>
<path d="M186.3 1136.5V1125.7M175.6 1125.7H197.1" fill="none" stroke="#383838" stroke-width="2.1"/>
<rect x="166.7" y="1137.5" width="39.3" height="77.6" fill="#b0b0b0" stroke="#333333" stroke-width="2"/>
<path d="M186.3 1215.1V1219.1" stroke="#555" stroke-width="1.6"/>
<text class="xl" x="186.3" y="1232.3" text-anchor="middle" textLength="51.6" lengthAdjust="spacingAndGlyphs">3-wk old</text>
<path d="M248 1162.3V1151.5M236.7 1151.5H259.2" fill="none" stroke="#383838" stroke-width="2.1"/>
<rect x="227.3" y="1163.3" width="41.3" height="51.8" fill="#808282" stroke="#3c3c3c" stroke-width="2"/>
<path d="M248 1215.1V1219.1" stroke="#555" stroke-width="1.6"/>
<text class="xl" x="248" y="1232.3" text-anchor="middle" textLength="54.1" lengthAdjust="spacingAndGlyphs">5-wk old</text>
<text class="lt" x="124.5" y="1160.2" text-anchor="middle">b</text>
<text class="lt" x="186.3" y="1124.9" text-anchor="middle">a</text>
<text class="lt" x="247.7" y="1147.3" text-anchor="middle">cb</text>
<text class="tt" x="182" y="1088.8" text-anchor="middle" font-size="24.5" textLength="100.3" lengthAdjust="spacingAndGlyphs">Tyrosine</text>
</g>
<g>
<path d="M381.7 1088.6V1217.4" fill="none" stroke="#4a4a4a" stroke-width="2.2"/>
<path d="M380.6 1216.1H571" fill="none" stroke="#909090" stroke-width="3"/>
<path d="M376.9 1089.6H381.7" stroke="#555" stroke-width="1.8"/>
<text class="tk" x="376.2" y="1092.7" text-anchor="end" textLength="36" lengthAdjust="spacingAndGlyphs">5.0×10<tspan dy="-3" font-size="6">11</tspan></text>
<path d="M376.9 1114.9H381.7" stroke="#555" stroke-width="1.8"/>
<text class="tk" x="376.2" y="1118" text-anchor="end" textLength="36" lengthAdjust="spacingAndGlyphs">4.0×10<tspan dy="-3" font-size="6">11</tspan></text>
<path d="M376.9 1140.4H381.7" stroke="#555" stroke-width="1.8"/>
<text class="tk" x="376.2" y="1143.5" text-anchor="end" textLength="36" lengthAdjust="spacingAndGlyphs">3.0×10<tspan dy="-3" font-size="6">11</tspan></text>
<path d="M376.9 1165.1H381.7" stroke="#555" stroke-width="1.8"/>
<text class="tk" x="376.2" y="1168.2" text-anchor="end" textLength="36" lengthAdjust="spacingAndGlyphs">2.0×10<tspan dy="-3" font-size="6">11</tspan></text>
<path d="M376.9 1191.4H381.7" stroke="#555" stroke-width="1.8"/>
<text class="tk" x="376.2" y="1194.5" text-anchor="end" textLength="35" lengthAdjust="spacingAndGlyphs">10000000</text>
<path d="M376.9 1215.9H381.7" stroke="#555" stroke-width="1.8"/>
<text class="tk" x="376.2" y="1219" text-anchor="end">0</text>
<path d="M412.6 1148.9V1138.6M401.2 1138.6H424" fill="none" stroke="#383838" stroke-width="2.1"/>
<rect x="391.7" y="1149.9" width="41.8" height="66" fill="#1a1a1a" stroke="#1a1a1a" stroke-width="2"/>
<path d="M412.6 1215.9V1219.9" stroke="#555" stroke-width="1.6"/>
<text class="xl" x="412.6" y="1233.1" text-anchor="middle" textLength="54.8" lengthAdjust="spacingAndGlyphs">1-wk old</text>
<path d="M475.9 1125.7V1111M464.8 1111H486.9" fill="none" stroke="#383838" stroke-width="2.1"/>
<rect x="455.6" y="1126.7" width="40.5" height="89.2" fill="#b0b0b0" stroke="#333333" stroke-width="2"/>
<path d="M475.9 1215.9V1219.9" stroke="#555" stroke-width="1.6"/>
<text class="xl" x="475.9" y="1233.1" text-anchor="middle" textLength="53.1" lengthAdjust="spacingAndGlyphs">3-wk old</text>
<path d="M538.6 1160V1149.4M527.4 1149.4H549.9" fill="none" stroke="#383838" stroke-width="2.1"/>
<rect x="518" y="1161" width="41.3" height="54.9" fill="#808282" stroke="#3c3c3c" stroke-width="2"/>
<path d="M538.6 1215.9V1219.9" stroke="#555" stroke-width="1.6"/>
<text class="xl" x="538.6" y="1233.1" text-anchor="middle" textLength="54.1" lengthAdjust="spacingAndGlyphs">5-wk old</text>
<text class="lt" x="413.4" y="1136.5" text-anchor="middle">b</text>
<text class="lt" x="475.7" y="1110" text-anchor="middle">a</text>
<text class="lt" x="538.9" y="1145.5" text-anchor="middle">cb</text>
<text class="tt" x="471.4" y="1090.7" text-anchor="middle" font-size="24.5" textLength="135.5" lengthAdjust="spacingAndGlyphs">Tryptophan</text>
</g>
<g>
<path d="M677.8 1090.4V1217.8" fill="none" stroke="#4a4a4a" stroke-width="2.2"/>
<path d="M676.7 1216.9H867.2" fill="none" stroke="#4a4a4a" stroke-width="2.2"/>
<path d="M673 1091.4H677.8" stroke="#555" stroke-width="1.8"/>
<text class="tk" x="672.3" y="1094.5" text-anchor="end">400000</text>
<path d="M673 1122.6H677.8" stroke="#555" stroke-width="1.8"/>
<text class="tk" x="672.3" y="1125.7" text-anchor="end">300000</text>
<path d="M673 1154.6H677.8" stroke="#555" stroke-width="1.8"/>
<text class="tk" x="672.3" y="1157.7" text-anchor="end">200000</text>
<path d="M673 1185.7H677.8" stroke="#555" stroke-width="1.8"/>
<text class="tk" x="672.3" y="1188.8" text-anchor="end">100000</text>
<path d="M673 1216.7H677.8" stroke="#555" stroke-width="1.8"/>
<text class="tk" x="672.3" y="1219.8" text-anchor="end">0</text>
<path d="M709.1 1208.9V1204.3M697.9 1204.3H720.3" fill="none" stroke="#383838" stroke-width="2.1"/>
<rect x="688.6" y="1209.9" width="41" height="6.8" fill="#1a1a1a" stroke="#1a1a1a" stroke-width="2"/>
<path d="M709.1 1216.7V1220.7" stroke="#555" stroke-width="1.6"/>
<text class="xl" x="709.1" y="1233.9" text-anchor="middle" textLength="53.8" lengthAdjust="spacingAndGlyphs">1-wk old</text>
<path d="M772.2 1141.2V1114.6M761 1114.6H783.5" fill="none" stroke="#383838" stroke-width="2.1"/>
<rect x="751.7" y="1142.2" width="41.1" height="74.5" fill="#b0b0b0" stroke="#333333" stroke-width="2"/>
<path d="M772.2 1216.7V1220.7" stroke="#555" stroke-width="1.6"/>
<text class="xl" x="772.2" y="1233.9" text-anchor="middle" textLength="53.9" lengthAdjust="spacingAndGlyphs">3-wk old</text>
<path d="M835.4 1193.5V1183.2M824.2 1183.2H846.6" fill="none" stroke="#383838" stroke-width="2.1"/>
<rect x="814.9" y="1194.5" width="41" height="22.2" fill="#808282" stroke="#3c3c3c" stroke-width="2"/>
<path d="M835.4 1216.7V1220.7" stroke="#555" stroke-width="1.6"/>
<text class="xl" x="835.4" y="1233.9" text-anchor="middle" textLength="53.8" lengthAdjust="spacingAndGlyphs">5-wk old</text>
<text class="lt" x="711.8" y="1202.2" text-anchor="middle">b</text>
<text class="lt" x="773.2" y="1111.3" text-anchor="middle">a</text>
<text class="lt" x="837.6" y="1182.1" text-anchor="middle">ab</text>
<text class="tt" x="771.9" y="1091.5" text-anchor="middle" font-size="24.5" textLength="119.2" lengthAdjust="spacingAndGlyphs">Threonine</text>
</g>
<g>
<path d="M965 1092.5V1219.4" fill="none" stroke="#888888" stroke-width="3"/>
<path d="M963.5 1218.1H1151.9" fill="none" stroke="#909090" stroke-width="3"/>
<path d="M960.2 1093.5H965" stroke="#555" stroke-width="1.8"/>
<text class="tk" x="959.5" y="1096.6" text-anchor="end" textLength="30" lengthAdjust="spacingAndGlyphs">2.0×10<tspan dy="-3" font-size="6">7</tspan></text>
<path d="M960.2 1125.5H965" stroke="#555" stroke-width="1.8"/>
<text class="tk" x="959.5" y="1128.6" text-anchor="end" textLength="30" lengthAdjust="spacingAndGlyphs">1.5×10<tspan dy="-3" font-size="6">7</tspan></text>
<path d="M960.2 1156.5H965" stroke="#555" stroke-width="1.8"/>
<text class="tk" x="959.5" y="1159.6" text-anchor="end" textLength="30" lengthAdjust="spacingAndGlyphs">1.0×10<tspan dy="-3" font-size="6">7</tspan></text>
<path d="M960.2 1187.2H965" stroke="#555" stroke-width="1.8"/>
<text class="tk" x="959.5" y="1190.3" text-anchor="end" textLength="30" lengthAdjust="spacingAndGlyphs">5.0×10<tspan dy="-3" font-size="6">6</tspan></text>
<path d="M960.2 1217.9H965" stroke="#555" stroke-width="1.8"/>
<text class="tk" x="959.5" y="1221" text-anchor="end">0</text>
<path d="M996 1143.6V1131M985 1131H1006.9" fill="none" stroke="#383838" stroke-width="2.1"/>
<rect x="975.8" y="1144.6" width="40.3" height="73.3" fill="#1a1a1a" stroke="#1a1a1a" stroke-width="2"/>
<path d="M996 1217.9V1221.9" stroke="#555" stroke-width="1.6"/>
<text class="xl" x="996" y="1235.1" text-anchor="middle" textLength="52.9" lengthAdjust="spacingAndGlyphs">1-wk old</text>
<path d="M1058 1122.5V1107.1M1047 1107.1H1069.1" fill="none" stroke="#383838" stroke-width="2.1"/>
<rect x="1037.8" y="1123.5" width="40.5" height="94.4" fill="#b0b0b0" stroke="#333333" stroke-width="2"/>
<path d="M1058 1217.9V1221.9" stroke="#555" stroke-width="1.6"/>
<text class="xl" x="1058" y="1235.1" text-anchor="middle" textLength="53.1" lengthAdjust="spacingAndGlyphs">3-wk old</text>
<path d="M1120.7 1151.9V1140.1M1109.7 1140.1H1131.6" fill="none" stroke="#383838" stroke-width="2.1"/>
<rect x="1100.5" y="1152.9" width="40.3" height="65" fill="#808282" stroke="#3c3c3c" stroke-width="2"/>
<path d="M1120.7 1217.9V1221.9" stroke="#555" stroke-width="1.6"/>
<text class="xl" x="1120.7" y="1235.1" text-anchor="middle" textLength="52.9" lengthAdjust="spacingAndGlyphs">5-wk old</text>
<text class="lt" x="997" y="1129.6" text-anchor="middle">ab</text>
<text class="lt" x="1058.2" y="1105.2" text-anchor="middle">a</text>
<text class="lt" x="1120.9" y="1137.9" text-anchor="middle">b</text>
<text class="tt" x="1053.7" y="1091.5" text-anchor="middle" font-size="24.5" textLength="164.5" lengthAdjust="spacingAndGlyphs">Phenylalanine</text>
</g>
<g>
<path d="M278.9 1282.1V1409.6" fill="none" stroke="#4a4a4a" stroke-width="2.2"/>
<path d="M277.8 1408.3H468.8" fill="none" stroke="#909090" stroke-width="3"/>
<path d="M274.1 1283.1H278.9" stroke="#555" stroke-width="1.8"/>
<text class="tk" x="273.4" y="1286.2" text-anchor="end" textLength="30" lengthAdjust="spacingAndGlyphs">2.0×10<tspan dy="-3" font-size="6">7</tspan></text>
<path d="M274.1 1314.6H278.9" stroke="#555" stroke-width="1.8"/>
<text class="tk" x="273.4" y="1317.7" text-anchor="end" textLength="30" lengthAdjust="spacingAndGlyphs">1.5×10<tspan dy="-3" font-size="6">7</tspan></text>
<path d="M274.1 1346H278.9" stroke="#555" stroke-width="1.8"/>
<text class="tk" x="273.4" y="1349.1" text-anchor="end" textLength="30" lengthAdjust="spacingAndGlyphs">1.0×10<tspan dy="-3" font-size="6">7</tspan></text>
<path d="M274.1 1377.7H278.9" stroke="#555" stroke-width="1.8"/>
<text class="tk" x="273.4" y="1380.8" text-anchor="end" textLength="30" lengthAdjust="spacingAndGlyphs">5.0×10<tspan dy="-3" font-size="6">6</tspan></text>
<path d="M274.1 1408.1H278.9" stroke="#555" stroke-width="1.8"/>
<text class="tk" x="273.4" y="1411.2" text-anchor="end">0</text>
<path d="M311 1345.5V1328.2M299.7 1328.2H322.3" fill="none" stroke="#383838" stroke-width="2.1"/>
<rect x="290.2" y="1346.5" width="41.6" height="61.6" fill="#1a1a1a" stroke="#1a1a1a" stroke-width="2"/>
<path d="M311 1408.1V1412.1" stroke="#555" stroke-width="1.6"/>
<text class="xl" x="311" y="1425.3" text-anchor="middle" textLength="54.5" lengthAdjust="spacingAndGlyphs">1-wk old</text>
<path d="M373.5 1318.4V1304.3M362.4 1304.3H384.6" fill="none" stroke="#383838" stroke-width="2.1"/>
<rect x="353.1" y="1319.4" width="40.8" height="88.7" fill="#b0b0b0" stroke="#333333" stroke-width="2"/>
<path d="M373.5 1408.1V1412.1" stroke="#555" stroke-width="1.6"/>
<text class="xl" x="373.5" y="1425.3" text-anchor="middle" textLength="53.5" lengthAdjust="spacingAndGlyphs">3-wk old</text>
<path d="M436.6 1346.3V1335.7M425.5 1335.7H447.7" fill="none" stroke="#383838" stroke-width="2.1"/>
<rect x="416.2" y="1347.3" width="40.8" height="60.8" fill="#808282" stroke="#3c3c3c" stroke-width="2"/>
<path d="M436.6 1408.1V1412.1" stroke="#555" stroke-width="1.6"/>
<text class="xl" x="436.6" y="1425.3" text-anchor="middle" textLength="53.5" lengthAdjust="spacingAndGlyphs">5-wk old</text>
<text class="lt" x="310.9" y="1326.7" text-anchor="middle">ab</text>
<text class="lt" x="374.2" y="1302.7" text-anchor="middle">a</text>
<text class="lt" x="435.8" y="1334.1" text-anchor="middle">b</text>
<text class="tt" x="369.1" y="1282.1" text-anchor="middle" font-size="24.5" textLength="93.8" lengthAdjust="spacingAndGlyphs">Leucine</text>
</g>
<g>
<path d="M743.1 1282.3V1410.4" fill="none" stroke="#4a4a4a" stroke-width="2.2"/>
<path d="M742 1409.5H932.5" fill="none" stroke="#4a4a4a" stroke-width="2.2"/>
<path d="M738.3 1283.3H743.1" stroke="#555" stroke-width="1.8"/>
<text class="tk" x="737.6" y="1286.4" text-anchor="end" textLength="30" lengthAdjust="spacingAndGlyphs">6.0×10<tspan dy="-3" font-size="6">8</tspan></text>
<path d="M738.3 1325H743.1" stroke="#555" stroke-width="1.8"/>
<text class="tk" x="737.6" y="1328.1" text-anchor="end" textLength="30" lengthAdjust="spacingAndGlyphs">4.0×10<tspan dy="-3" font-size="6">8</tspan></text>
<path d="M738.3 1367H743.1" stroke="#555" stroke-width="1.8"/>
<text class="tk" x="737.6" y="1370.1" text-anchor="end" textLength="30" lengthAdjust="spacingAndGlyphs">2.0×10<tspan dy="-3" font-size="6">8</tspan></text>
<path d="M738.3 1409.3H743.1" stroke="#555" stroke-width="1.8"/>
<text class="tk" x="737.6" y="1412.4" text-anchor="end">0</text>
<path d="M776 1356V1343.8M764.9 1343.8H787" fill="none" stroke="#383838" stroke-width="2.1"/>
<rect x="755.7" y="1357" width="40.5" height="52.3" fill="#1a1a1a" stroke="#1a1a1a" stroke-width="2"/>
<path d="M776 1409.3V1413.3" stroke="#555" stroke-width="1.6"/>
<text class="xl" x="776" y="1426.5" text-anchor="middle" textLength="53.1" lengthAdjust="spacingAndGlyphs">1-wk old</text>
<path d="M837.9 1323V1309.1M826.8 1309.1H848.9" fill="none" stroke="#383838" stroke-width="2.1"/>
<rect x="817.6" y="1324" width="40.5" height="85.3" fill="#b0b0b0" stroke="#333333" stroke-width="2"/>
<path d="M837.9 1409.3V1413.3" stroke="#555" stroke-width="1.6"/>
<text class="xl" x="837.9" y="1426.5" text-anchor="middle" textLength="53.1" lengthAdjust="spacingAndGlyphs">3-wk old</text>
<path d="M900.5 1324.5V1301.8M889.3 1301.8H911.8" fill="none" stroke="#383838" stroke-width="2.1"/>
<rect x="879.9" y="1325.5" width="41.3" height="83.8" fill="#808282" stroke="#3c3c3c" stroke-width="2"/>
<path d="M900.5 1409.3V1413.3" stroke="#555" stroke-width="1.6"/>
<text class="xl" x="900.5" y="1426.5" text-anchor="middle" textLength="54.1" lengthAdjust="spacingAndGlyphs">5-wk old</text>
<text class="tt" x="833.8" y="1283.6" text-anchor="middle" font-size="24.5" textLength="72.9" lengthAdjust="spacingAndGlyphs">Valine</text>
</g>
<g>
<path d="M76.8 1416.2V1545.7" fill="none" stroke="#4a4a4a" stroke-width="2.2"/>
<path d="M75.7 1544.4H267" fill="none" stroke="#909090" stroke-width="3"/>
<path d="M72 1417.2H76.8" stroke="#555" stroke-width="1.8"/>
<text class="tk" x="71.3" y="1420.3" text-anchor="end" textLength="36" lengthAdjust="spacingAndGlyphs">1.5×10<tspan dy="-3" font-size="6">11</tspan></text>
<path d="M72 1459.7H76.8" stroke="#555" stroke-width="1.8"/>
<text class="tk" x="71.3" y="1462.8" text-anchor="end" textLength="35" lengthAdjust="spacingAndGlyphs">10000000</text>
<path d="M72 1502.2H76.8" stroke="#555" stroke-width="1.8"/>
<text class="tk" x="71.3" y="1505.3" text-anchor="end" textLength="35" lengthAdjust="spacingAndGlyphs">5000000</text>
<path d="M72 1544.2H76.8" stroke="#555" stroke-width="1.8"/>
<text class="tk" x="71.3" y="1547.3" text-anchor="end">0</text>
<path d="M108.5 1537.5V1535M97.1 1535H119.9" fill="none" stroke="#383838" stroke-width="2.1"/>
<rect x="87.6" y="1538.5" width="41.8" height="5.7" fill="#1a1a1a" stroke="#1a1a1a" stroke-width="2"/>
<path d="M108.5 1544.2V1548.2" stroke="#555" stroke-width="1.6"/>
<text class="xl" x="108.5" y="1561.4" text-anchor="middle" textLength="54.8" lengthAdjust="spacingAndGlyphs">1-wk old</text>
<path d="M171.4 1532.4V1525.4M160 1525.4H182.8" fill="none" stroke="#383838" stroke-width="2.1"/>
<rect x="150.5" y="1533.4" width="41.8" height="10.8" fill="#b0b0b0" stroke="#333333" stroke-width="2"/>
<path d="M171.4 1544.2V1548.2" stroke="#555" stroke-width="1.6"/>
<text class="xl" x="171.4" y="1561.4" text-anchor="middle" textLength="54.8" lengthAdjust="spacingAndGlyphs">3-wk old</text>
<path d="M234.8 1495.8V1456.6M223.4 1456.6H246.2" fill="none" stroke="#383838" stroke-width="2.1"/>
<rect x="213.9" y="1496.8" width="41.8" height="47.4" fill="#808282" stroke="#3c3c3c" stroke-width="2"/>
<path d="M234.8 1544.2V1548.2" stroke="#555" stroke-width="1.6"/>
<text class="xl" x="234.8" y="1561.4" text-anchor="middle" textLength="54.7" lengthAdjust="spacingAndGlyphs">5-wk old</text>
<text class="tt" x="167" y="1419.6" text-anchor="middle" font-size="24.5" textLength="79.3" lengthAdjust="spacingAndGlyphs">Lysine</text>
</g>
<g>
<path d="M533.9 1429.9V1551.8" fill="none" stroke="#4a4a4a" stroke-width="2.2"/>
<path d="M532.8 1550.9H717.4" fill="none" stroke="#4a4a4a" stroke-width="2.2"/>
<path d="M529.1 1430.9H533.9" stroke="#555" stroke-width="1.8"/>
<text class="tk" x="528.4" y="1434" text-anchor="end" textLength="36" lengthAdjust="spacingAndGlyphs">2.5×10<tspan dy="-3" font-size="6">11</tspan></text>
<path d="M529.1 1454.6H533.9" stroke="#555" stroke-width="1.8"/>
<text class="tk" x="528.4" y="1457.7" text-anchor="end" textLength="36" lengthAdjust="spacingAndGlyphs">2.0×10<tspan dy="-3" font-size="6">11</tspan></text>
<path d="M529.1 1477.8H533.9" stroke="#555" stroke-width="1.8"/>
<text class="tk" x="528.4" y="1480.9" text-anchor="end" textLength="36" lengthAdjust="spacingAndGlyphs">1.5×10<tspan dy="-3" font-size="6">11</tspan></text>
<path d="M529.1 1503H533.9" stroke="#555" stroke-width="1.8"/>
<text class="tk" x="528.4" y="1506.1" text-anchor="end" textLength="35" lengthAdjust="spacingAndGlyphs">10000000</text>
<path d="M529.1 1527.2H533.9" stroke="#555" stroke-width="1.8"/>
<text class="tk" x="528.4" y="1530.3" text-anchor="end" textLength="35" lengthAdjust="spacingAndGlyphs">5000000</text>
<path d="M529.1 1550.7H533.9" stroke="#555" stroke-width="1.8"/>
<text class="tk" x="528.4" y="1553.8" text-anchor="end">0</text>
<rect x="544.4" y="1549.1" width="40.6" height="1.6" fill="#1a1a1a" stroke="#1a1a1a" stroke-width="2"/>
<path d="M564.7 1550.7V1554.7" stroke="#555" stroke-width="1.6"/>
<text class="xl" x="564.7" y="1567.9" text-anchor="middle" textLength="53.3" lengthAdjust="spacingAndGlyphs">1-wk old</text>
<path d="M625.2 1496.6V1482.9M613.9 1482.9H636.6" fill="none" stroke="#383838" stroke-width="2.1"/>
<rect x="604.5" y="1497.6" width="41.5" height="53.1" fill="#b0b0b0" stroke="#333333" stroke-width="2"/>
<path d="M625.2 1550.7V1554.7" stroke="#555" stroke-width="1.6"/>
<text class="xl" x="625.2" y="1567.9" text-anchor="middle" textLength="54.4" lengthAdjust="spacingAndGlyphs">3-wk old</text>
<path d="M686.5 1474.7V1448.1M675.7 1448.1H697.2" fill="none" stroke="#383838" stroke-width="2.1"/>
<rect x="666.8" y="1475.7" width="39.3" height="75" fill="#808282" stroke="#3c3c3c" stroke-width="2"/>
<path d="M686.5 1550.7V1554.7" stroke="#555" stroke-width="1.6"/>
<text class="xl" x="686.5" y="1567.9" text-anchor="middle" textLength="51.6" lengthAdjust="spacingAndGlyphs">5-wk old</text>
<text class="lt" x="564.8" y="1543.2" text-anchor="middle">b</text>
<text class="lt" x="625.4" y="1480.8" text-anchor="middle">ab</text>
<text class="lt" x="687.2" y="1446.6" text-anchor="middle">a</text>
<text class="tt" x="620.7" y="1424.7" text-anchor="middle" font-size="24.5" textLength="96.8" lengthAdjust="spacingAndGlyphs">Arginine</text>
</g>
<g>
<path d="M979.3 1433.6V1558.3" fill="none" stroke="#4a4a4a" stroke-width="2.2"/>
<path d="M978.2 1557H1164.5" fill="none" stroke="#909090" stroke-width="3"/>
<path d="M974.5 1434.6H979.3" stroke="#555" stroke-width="1.8"/>
<text class="tk" x="973.8" y="1437.7" text-anchor="end">50000</text>
<path d="M974.5 1458.5H979.3" stroke="#555" stroke-width="1.8"/>
<text class="tk" x="973.8" y="1461.6" text-anchor="end">40000</text>
<path d="M974.5 1483.2H979.3" stroke="#555" stroke-width="1.8"/>
<text class="tk" x="973.8" y="1486.3" text-anchor="end">30000</text>
<path d="M974.5 1507.9H979.3" stroke="#555" stroke-width="1.8"/>
<text class="tk" x="973.8" y="1511" text-anchor="end">20000</text>
<path d="M974.5 1532.3H979.3" stroke="#555" stroke-width="1.8"/>
<text class="tk" x="973.8" y="1535.4" text-anchor="end">10000</text>
<path d="M974.5 1556.8H979.3" stroke="#555" stroke-width="1.8"/>
<text class="tk" x="973.8" y="1559.9" text-anchor="end">0</text>
<path d="M1010.1 1487V1470.1M999 1470.1H1021.2" fill="none" stroke="#383838" stroke-width="2.1"/>
<rect x="989.7" y="1488" width="40.8" height="68.8" fill="#1a1a1a" stroke="#1a1a1a" stroke-width="2"/>
<path d="M1010.1 1556.8V1560.8" stroke="#555" stroke-width="1.6"/>
<text class="xl" x="1010.1" y="1574" text-anchor="middle" textLength="53.5" lengthAdjust="spacingAndGlyphs">1-wk old</text>
<path d="M1072.3 1481.9V1463.8M1061.3 1463.8H1083.3" fill="none" stroke="#383838" stroke-width="2.1"/>
<rect x="1052.1" y="1482.9" width="40.4" height="73.9" fill="#b0b0b0" stroke="#333333" stroke-width="2"/>
<path d="M1072.3 1556.8V1560.8" stroke="#555" stroke-width="1.6"/>
<text class="xl" x="1072.3" y="1574" text-anchor="middle" textLength="53" lengthAdjust="spacingAndGlyphs">3-wk old</text>
<path d="M1134.2 1519V1509.6M1123.1 1509.6H1145.4" fill="none" stroke="#383838" stroke-width="2.1"/>
<rect x="1113.8" y="1520" width="40.9" height="36.8" fill="#808282" stroke="#3c3c3c" stroke-width="2"/>
<path d="M1134.2 1556.8V1560.8" stroke="#555" stroke-width="1.6"/>
<text class="xl" x="1134.2" y="1574" text-anchor="middle" textLength="53.6" lengthAdjust="spacingAndGlyphs">5-wk old</text>
<text class="tt" x="1072" y="1431.5" text-anchor="middle" font-size="24.5" textLength="100.5" lengthAdjust="spacingAndGlyphs">Cysteine</text>
</g>
</g>
</svg>
</body></html>
